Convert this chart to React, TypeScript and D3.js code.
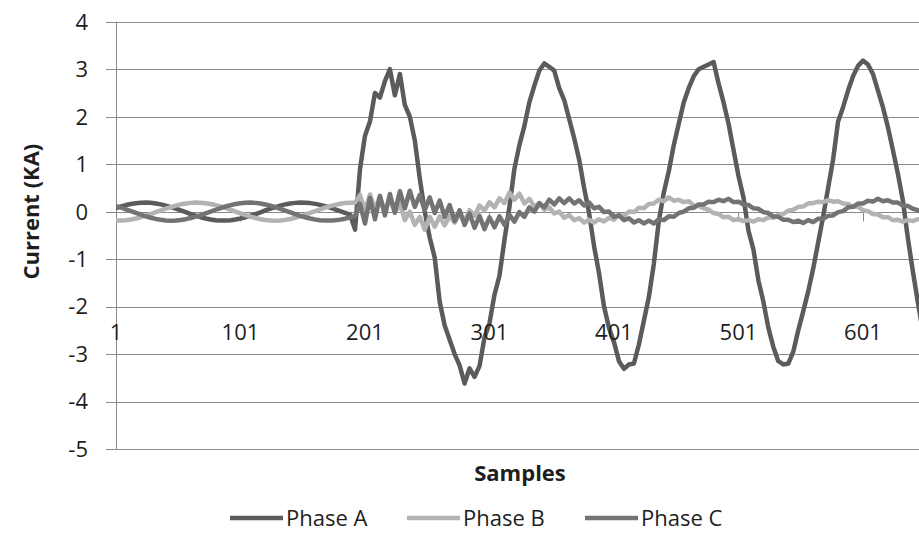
import React from "react";
import * as d3 from "d3";

// Sampled every SAMPLE_STEP samples, starting at sample 1.
const SAMPLE_STEP = 4;

const phaseA = [
  0.076, 0.109, 0.138, 0.161, 0.178, 0.188, 0.19, 0.185, 0.172, 0.153, 0.127, 0.096, 0.062, 0.025, -0.013, -0.051,
  -0.086, -0.118, -0.145, -0.166, -0.181, -0.189, -0.189, -0.182, -0.167, -0.146, -0.118, -0.087, -0.051, -0.014, 0.024, 0.061,
  0.095, 0.127, 0.152, 0.172, 0.184, 0.19, 0.188, 0.179, 0.163, 0.141, 0.114, 0.082, 0.048, 0.011, -0.027, -0.063,
  -0.38, 0.9, 1.6, 1.9, 2.5, 2.4, 2.75, 3.0, 2.45, 2.9, 2.25, 2.0, 1.5, 0.7, 0.0, -0.55,
  -0.97, -1.9, -2.4, -2.7, -3.0, -3.24, -3.62, -3.3, -3.48, -3.25, -2.65, -2.35, -1.75, -1.35, -0.6, 0.1,
  0.9, 1.4, 1.8, 2.3, 2.65, 2.97, 3.12, 3.05, 2.97, 2.6, 2.35, 1.95, 1.55, 1.1, 0.5, -0.03,
  -0.73, -1.3, -2.0, -2.45, -2.75, -3.15, -3.31, -3.22, -3.2, -2.8, -2.3, -1.8, -1.1, -0.2, 0.4, 0.85,
  1.4, 1.85, 2.3, 2.6, 2.85, 3.0, 3.05, 3.1, 3.15, 2.7, 2.3, 1.85, 1.3, 0.75, 0.3, -0.4,
  -0.8, -1.45, -1.9, -2.45, -2.85, -3.15, -3.22, -3.2, -2.95, -2.5, -2.1, -1.68, -1.2, -0.65, -0.1, 0.5,
  1.1, 1.9, 2.2, 2.55, 2.85, 3.07, 3.18, 3.1, 2.9, 2.55, 2.2, 1.78, 1.3, 0.8, 0.24, -0.55,
  -1.25, -1.9, -2.5,
];

const phaseB = [
  -0.189, -0.189, -0.181, -0.167, -0.145, -0.118, -0.086, -0.051, -0.013, 0.024, 0.062, 0.096, 0.127, 0.152, 0.172, 0.184,
  0.19, 0.188, 0.178, 0.161, 0.138, 0.109, 0.076, 0.04, 0.002, -0.036, -0.072, -0.105, -0.135, -0.159, -0.176, -0.187,
  -0.19, -0.185, -0.174, -0.155, -0.13, -0.1, -0.066, -0.029, 0.009, 0.047, 0.082, 0.115, 0.142, 0.165, 0.18, 0.189,
  0.189, 0.35, 0.02, 0.36, 0.04, 0.33, -0.01, 0.28, -0.03, 0.18, -0.18, 0.0, -0.28, -0.11, -0.38, -0.11,
  -0.32, -0.1, -0.29, -0.09, -0.23, -0.06, -0.19, 0.03, -0.09, 0.13, 0.02, 0.2, 0.09, 0.28, 0.18, 0.4,
  0.25, 0.38, 0.17, 0.27, 0.11, 0.17, 0.04, 0.09, -0.04, 0.0, -0.13, -0.07, -0.18, -0.14, -0.23, -0.17,
  -0.23, -0.16, -0.21, -0.13, -0.17, -0.07, -0.09, 0.0, -0.01, 0.08, 0.07, 0.16, 0.17, 0.25, 0.22, 0.3,
  0.23, 0.25, 0.2, 0.22, 0.13, 0.12, 0.07, 0.04, -0.03, -0.05, -0.12, -0.11, -0.18, -0.16, -0.2, -0.18,
  -0.21, -0.16, -0.18, -0.12, -0.13, -0.07, -0.05, 0.02, 0.04, 0.1, 0.11, 0.17, 0.18, 0.21, 0.2, 0.24,
  0.21, 0.22, 0.17, 0.16, 0.1, 0.1, 0.03, 0.01, -0.05, -0.06, -0.12, -0.12, -0.18, -0.17, -0.21, -0.18,
  -0.2, -0.16, -0.17,
];

const phaseC = [
  0.115, 0.083, 0.047, 0.01, -0.028, -0.065, -0.099, -0.129, -0.154, -0.173, -0.185, -0.19, -0.187, -0.177, -0.159, -0.135,
  -0.106, -0.073, -0.036, 0.001, 0.039, 0.075, 0.108, 0.137, 0.161, 0.178, 0.188, 0.19, 0.184, 0.171, 0.151, 0.125,
  0.093, 0.059, 0.022, -0.016, -0.053, -0.088, -0.119, -0.146, -0.166, -0.181, -0.189, -0.189, -0.182, -0.169, -0.149, -0.123,
  -0.092, 0.16, -0.25, 0.29, -0.16, 0.33, -0.08, 0.37, -0.02, 0.43, 0.07, 0.44, 0.1, 0.35, 0.03, 0.3,
  -0.03, 0.23, -0.11, 0.14, -0.2, 0.03, -0.28, -0.04, -0.34, -0.09, -0.37, -0.12, -0.33, -0.1, -0.28, -0.07,
  -0.21, -0.01, -0.11, 0.09, 0.0, 0.18, 0.09, 0.25, 0.15, 0.28, 0.18, 0.28, 0.17, 0.24, 0.13, 0.19,
  0.07, 0.1, -0.01, 0.0, -0.11, -0.08, -0.18, -0.14, -0.23, -0.18, -0.25, -0.19, -0.25, -0.16, -0.18, -0.1,
  -0.11, -0.03, 0.0, 0.07, 0.08, 0.15, 0.15, 0.21, 0.2, 0.25, 0.22, 0.27, 0.2, 0.21, 0.15, 0.14,
  0.07, 0.06, -0.01, -0.03, -0.1, -0.11, -0.17, -0.17, -0.22, -0.19, -0.24, -0.18, -0.22, -0.15, -0.15, -0.09,
  -0.08, -0.01, 0.01, 0.09, 0.1, 0.17, 0.17, 0.23, 0.21, 0.27, 0.22, 0.24, 0.19, 0.19, 0.13, 0.12,
  0.06, 0.03, -0.03,
];

const seriesNames = ["Phase A", "Phase B", "Phase C"];
const seriesColors = ["#5b5b5b", "#b3b3b3", "#737373"];
const xTickLabels = [1, 101, 201, 301, 401, 501, 601];
const yTicks = [4, 3, 2, 1, 0, -1, -2, -3, -4, -5];
const xTitle = "Samples";
const yTitle = "Current (KA)";

const FONT = "'Open Sans', 'DejaVu Sans', sans-serif";

export default function App() {
  const width = 919;
  const height = 557;
  const left = 116;
  const right = 924;
  const top = 21.7;
  const bottom = 449;
  const lastSample = 650;

  const x = d3.scaleLinear().domain([1, lastSample]).range([left, right]);
  const y = d3.scaleLinear().domain([-5, 4]).range([bottom, top]);
  const crisp = (v: number) => Math.round(v) + 0.5;

  const line = d3
    .line<number>()
    .x((_, i) => x(1 + i * SAMPLE_STEP))
    .y((d) => y(d))
    .curve(d3.curveLinear);

  const series = [phaseA, phaseB, phaseC];
  const y0 = crisp(y(0));
  const legendStarts = [230, 407, 585];

  return (
    <div style={{ position: "absolute", left: 0, top: 0 }}>
      <svg width={width} height={height} style={{ display: "block", background: "#fff" }}>
        <defs>
          <clipPath id="plot-clip">
            <rect x={left} y={0} width={right - left} height={bottom + 30} />
          </clipPath>
        </defs>

        {/* horizontal gridlines with tick stubs */}
        {yTicks.map((t) => (
          <line
            key={`g${t}`}
            x1={left - 10}
            x2={right}
            y1={crisp(y(t))}
            y2={crisp(y(t))}
            stroke="#8a8a8a"
            strokeWidth={1}
          />
        ))}
        {/* y axis line */}
        <line x1={crisp(left)} x2={crisp(left)} y1={top} y2={bottom} stroke="#8a8a8a" strokeWidth={1} />

        {/* y tick labels */}
        {yTicks.map((t) => (
          <text
            key={`yl${t}`}
            x={88}
            y={y(t)}
            dy="0.36em"
            textAnchor="end"
            fontFamily={FONT}
            fontSize={22}
            fill="#1e1e1e"
          >
            {t}
          </text>
        ))}

        {/* category axis crossing at zero */}
        <line x1={left} x2={right} y1={y0} y2={y0} stroke="#8a8a8a" strokeWidth={1} />
        {xTickLabels.map((s) => (
          <line
            key={`xt${s}`}
            x1={crisp(x(s))}
            x2={crisp(x(s))}
            y1={y0}
            y2={y0 + 9}
            stroke="#8a8a8a"
            strokeWidth={1}
          />
        ))}

        {/* data lines */}
        <g clipPath="url(#plot-clip)">
          {series.map((vals, k) => (
            <path
              key={seriesNames[k]}
              d={line(vals) ?? ""}
              fill="none"
              stroke={seriesColors[k]}
              strokeWidth={4.5}
              strokeLinejoin="round"
              strokeLinecap="round"
            />
          ))}
        </g>

        {/* x tick labels */}
        {xTickLabels.map((s) => (
          <text
            key={`xl${s}`}
            x={x(s)}
            y={340}
            textAnchor="middle"
            fontFamily={FONT}
            fontSize={22}
            fill="#1e1e1e"
          >
            {s}
          </text>
        ))}

        {/* axis titles */}
        <text
          x={520}
          y={481}
          textAnchor="middle"
          fontFamily={FONT}
          fontSize={22}
          fontWeight="bold"
          fill="#1e1e1e"
        >
          {xTitle}
        </text>
        <text
          transform={`translate(39, ${y(0)}) rotate(-90)`}
          textAnchor="middle"
          fontFamily={FONT}
          fontSize={22}
          fontWeight="bold"
          fill="#1e1e1e"
        >
          {yTitle}
        </text>

        {/* legend */}
        {seriesNames.map((name, k) => (
          <g key={`lg${name}`}>
            <line
              x1={legendStarts[k]}
              x2={legendStarts[k] + 53}
              y1={518}
              y2={518}
              stroke={seriesColors[k]}
              strokeWidth={4.5}
            />
            <text
              x={legendStarts[k] + 56}
              y={518}
              dy="0.36em"
              fontFamily={FONT}
              fontSize={22}
              fill="#1e1e1e"
            >
              {name}
            </text>
          </g>
        ))}
      </svg>
    </div>
  );
}
